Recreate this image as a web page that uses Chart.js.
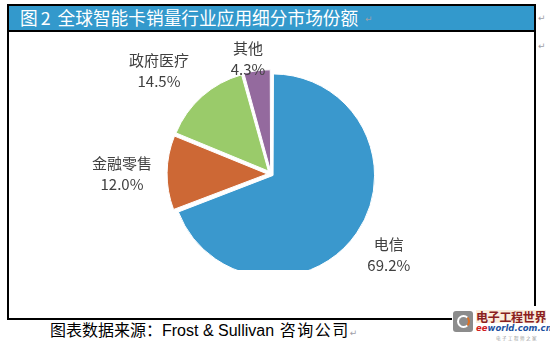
<!DOCTYPE html>
<html>
<head>
<meta charset="utf-8">
<script src="https://cdn.jsdelivr.net/npm/chart.js@4.4.1/dist/chart.umd.min.js"></script>
<style>
html, body { margin: 0; padding: 0; background: #fff; }
body { width: 550px; height: 346px; position: relative; overflow: hidden; font-family: "Noto Sans CJK SC", sans-serif; }
#box { position: absolute; left: 7px; top: 4px; width: 525px; height: 312px; border: 2px solid #000; }
#titleBar { position: absolute; left: 0; top: 0; width: 525px; height: 24px; background: #3399cc; border-bottom: 2px solid #000; }
#title { position: absolute; left: 11px; top: 1px; color: #fff; font-size: 17.7px; line-height: 20px; white-space: nowrap; }
#title .n { margin: 0 7px 0 3px; }
.pm { color: #a0a0a8; font-family: "DejaVu Sans", sans-serif; font-size: 9px; position: absolute; }
#chartWrap { position: absolute; left: 0; top: 0; width: 550px; height: 346px; z-index: 2; }
#caption { position: absolute; left: 50px; top: 318px; font-size: 16px; line-height: 22px; color: #000; white-space: nowrap; }
#caption .lat { font-family: "Liberation Sans", Arial, sans-serif; margin-right: 2px; }
#caption .tail { letter-spacing: 1.5px; }
#logo { position: absolute; left: 452px; top: 306px; width: 98px; height: 40px; background: #fff; z-index: 3; }
#logoIcon { position: absolute; left: 1px; top: 5px; width: 20px; height: 21px; background: #8c8c8c; border-radius: 3px; }
#logoIcon b { position: absolute; left: 4px; top: 4px; width: 9px; height: 9px; border: 2px solid #fff; border-right-color: #e07020; border-radius: 50%; }
#logoCn { position: absolute; left: 24px; top: 4px; font-size: 12px; line-height: 13px; font-weight: bold; color: #8a2020; background: #fbeedd; letter-spacing: -0.3px; }
#logoEn { position: absolute; left: 24px; top: 17px; font-family: "DejaVu Sans", sans-serif; font-size: 8.5px; line-height: 10px; font-weight: bold; font-style: italic; color: #2050a0; }
#logoEn span { color: #d02020; }
#logoSub { position: absolute; left: 44px; top: 29px; font-size: 4.5px; line-height: 6px; color: #999; letter-spacing: 1.5px; }
</style>
</head>
<body>
<div id="box">
  <div id="titleBar"><span id="title">图<span class="n">2</span>全球智能卡销量行业应用细分市场份额</span><span class="pm" style="left:356px;top:8px;">↵</span></div>
</div>
<span class="pm" style="left:538px;top:13px;">↵</span>
<span class="pm" style="left:538px;top:41px;">↵</span>
<div id="caption">图表数据来源：<span class="lat">Frost &amp; Sullivan</span> <span class="tail">咨询公司</span><span class="pm" style="position:static;">↵</span></div>
<div id="logo">
  <div id="logoIcon"><b></b></div>
  <div id="logoCn">电子工程世界</div>
  <div id="logoEn"><span>ee</span>world.com.cn</div>
  <div id="logoSub">电子工程师之家</div>
</div>
<div id="chartWrap"><canvas id="pie" width="550" height="346"></canvas></div>
<script>
// data
const categories = ['电信', '金融零售', '政府医疗', '其他'];
const shares = [69.2, 12.0, 14.5, 4.3];

function $(id){ return document.getElementById(id); }

// labels sit outside each slice; Excel clips the bottom of the plot area
const pieLabels = {
  id: 'pieLabels',
  beforeDatasetsDraw(chart, args, opts){
    const ctx = chart.ctx;
    ctx.save();
    ctx.beginPath();
    ctx.rect(0, 0, chart.width, opts.clipBottom);
    ctx.clip();
  },
  afterDatasetsDraw(chart, args, opts){
    const ctx = chart.ctx;
    ctx.restore();
    const meta = chart.getDatasetMeta(0);
    meta.data.forEach((arc, i) => {
      const p = arc.getProps(['x', 'y', 'startAngle', 'endAngle', 'outerRadius'], true);
      const [k, nudge] = opts.place[i];
      const a = (p.startAngle + p.endAngle) / 2 + nudge * Math.PI / 180;
      const x = p.x + Math.cos(a) * p.outerRadius * k;
      const y = p.y + Math.sin(a) * p.outerRadius * k;
      ctx.save();
      ctx.fillStyle = '#404040';
      ctx.font = '15px "Noto Sans CJK SC"';
      ctx.textAlign = 'center';
      ctx.textBaseline = 'middle';
      ctx.fillText(categories[i], x, y - 10.5);
      ctx.fillText(shares[i].toFixed(1) + '%', x, y + 10.5);
      ctx.restore();
    });
  }
};

new Chart($('pie').getContext('2d'), {
  type: 'pie',
  data: {
    labels: categories,
    datasets: [{
      data: shares,
      backgroundColor: ['#3a98cd', '#cd6835', '#9acb6a', '#946a9e'],
      borderColor: '#ffffff',
      borderWidth: 1,
      offset: [10, 15, 16, 12],
      radius: 99
    }]
  },
  options: {
    responsive: false,
    animation: false,
    layout: { padding: { left: 0, right: 8, top: 2, bottom: 0 } },
    plugins: {
      legend: { display: false },
      tooltip: { enabled: false },
      pieLabels: {
        clipBottom: 270,
        place: [[1.445, 0], [1.505, -0.7], [1.535, -5.9], [1.19, -3.5]]
      }
    }
  },
  plugins: [pieLabels]
});
</script>
</body>
</html>
